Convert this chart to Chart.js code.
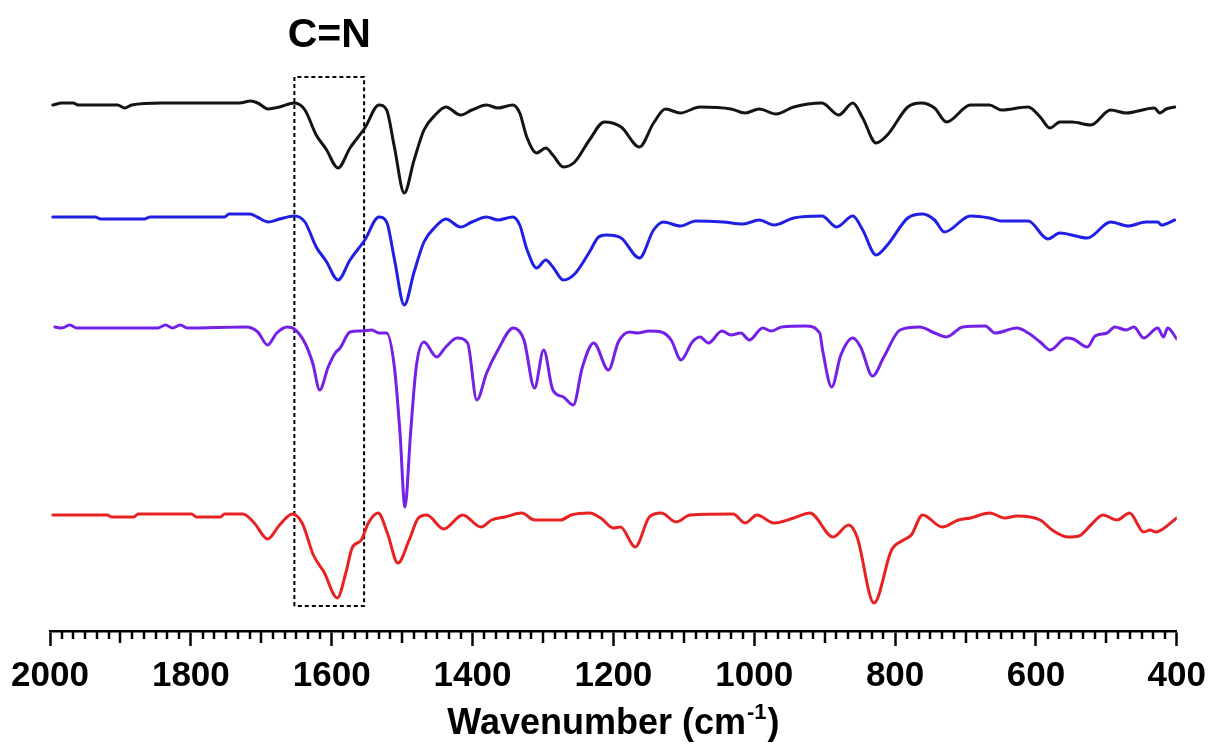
<!DOCTYPE html>
<html>
<head>
<meta charset="utf-8">
<script src="https://cdn.jsdelivr.net/npm/chart.js@4.4.1/dist/chart.umd.min.js"></script>
<style>
  html, body { margin: 0; padding: 0; background: #ffffff; }
  #wrap { width: 1215px; height: 746px; position: relative; }
</style>
</head>
<body>
<div id="wrap"><canvas id="ir" width="1215" height="746"></canvas></div>
<script>
// FTIR spectra: wavenumber (cm-1) and transmittance relative to each trace's own baseline (a.u.)
const wnBlack = [1996,1983,1967,1960,1904,1894,1884,1841,1731,1715,1705,1690,1674,1653,1638,1622,1608,1591,1574,1553,1533,1522,1511,1497,1483,1469,1453,1438,1417,1401,1380,1364,1343,1333,1323,1309,1296,1286,1271,1255,1234,1213,1189,1163,1143,1126,1105,1077,1033,1013,993,969,944,904,880,860,846,827,811,782,763,744,727,693,666,649,611,594,580,566,549,522,494,472,432,424,415,403];
const tBlack = [0,2,2,0,0,-3,0,2,2,4,2,-4,-2,2,-5,-30,-44,-63,-43,-23,0,-5,-42,-88,-55,-25,-10,-2,-10,-5,0,-3,0,-8,-32,-48,-43,-50,-62,-57,-35,-17,-22,-42,-18,-4,-8,-2,-4,-8,-4,-9,-2,2,-10,2,-13,-38,-30,-2,2,-3,-17,0,0,-5,-2,-12,-23,-17,-17,-20,-5,-8,-3,-8,-4,-2];

const wnBlue = [1996,1936,1928,1866,1858,1752,1746,1716,1706,1690,1674,1653,1638,1622,1608,1591,1574,1553,1533,1522,1511,1497,1483,1469,1453,1438,1417,1401,1380,1364,1343,1333,1323,1309,1296,1286,1271,1255,1234,1221,1210,1189,1163,1143,1129,1105,1083,1044,1016,993,972,944,904,883,860,846,827,811,782,761,744,730,693,666,649,611,583,566,527,494,469,444,427,422,403];
const tBlue = [0,0,-2,-2,0,0,3,3,0,-5,-2,1,-5,-30,-44,-63,-43,-23,0,-5,-42,-88,-55,-25,-10,-2,-10,-5,0,-3,0,-8,-32,-51,-43,-50,-63,-57,-35,-20,-18,-21,-41,-13,-5,-9,-4,-5,-7,-3,-8,-1,1,-10,1,-13,-38,-28,-1,3,-3,-15,1,-1,-4,-4,-22,-16,-21,-5,-9,-5,-5,-8,-3];

const wnPurple = [1993,1983,1972,1962,1847,1836,1826,1815,1805,1721,1705,1691,1678,1663,1653,1638,1627,1617,1605,1595,1588,1574,1558,1543,1533,1522,1511,1503,1496,1488,1480,1469,1451,1438,1422,1407,1394,1380,1364,1342,1327,1312,1299,1286,1271,1257,1244,1228,1207,1193,1177,1166,1149,1132,1118,1104,1088,1077,1065,1046,1033,1019,1007,988,976,961,927,907,903,890,877,860,849,832,816,793,765,744,727,704,672,658,627,611,594,580,557,547,527,516,499,488,472,461,447,427,419,413,400];
const tPurple = [0,-1,2,-1,-1,2,-1,2,-1,0,-5,-18,-6,0,-2,-16,-36,-63,-40,-26,-21,-5,-4,-3,-6,-6,-40,-106,-180,-106,-40,-15,-30,-20,-11,-16,-73,-46,-23,-1,-13,-61,-23,-63,-70,-78,-40,-16,-43,-15,-5,-6,-4,-5,-13,-33,-15,-10,-16,-4,-8,-6,-13,-1,-4,0,1,-6,-23,-60,-28,-11,-20,-49,-30,-3,0,-6,-10,0,1,-6,-1,-6,-15,-23,-11,-12,-20,-9,-6,0,-3,0,-11,-1,-10,-1,-12];

const wnRed = [1996,1919,1912,1881,1875,1799,1792,1758,1752,1726,1710,1691,1674,1656,1642,1626,1611,1592,1580,1571,1558,1548,1534,1521,1506,1490,1477,1465,1441,1414,1388,1373,1354,1330,1312,1275,1260,1234,1218,1200,1190,1169,1149,1132,1111,1091,1030,1013,996,972,944,921,888,866,854,830,805,788,777,761,733,710,693,666,644,627,594,577,554,539,522,505,485,467,447,438,430,400];
const tRed = [0,0,-2,-2,1,1,-2,-2,1,1,-8,-24,-10,1,-8,-40,-57,-83,-58,-33,-25,-8,2,-18,-48,-25,-3,0,-14,0,-12,-5,-2,2,-5,-5,0,2,-3,-13,-12,-32,-2,2,-7,0,1,-8,0,-8,-3,2,-22,-10,-22,-88,-35,-25,-20,0,-12,-5,-3,2,-3,-1,-5,-15,-22,-21,-10,0,-5,2,-17,-15,-17,-3];

// vertical stacking offsets of the four spectra (a.u.)
const offsets = [526, 414, 304, 116];
const traceColors = ['#141414', '#2020e4', '#7420e6', '#e62222'];

// x axis range and tick spacing (cm-1); 12 minor divisions per labelled step
const wnMin = 400, wnMax = 2000, majorStep = 200, minorPerMajor = 12;

// highlighted C=N band region
const bandWn = [1653, 1554];
const bandT = [25, 554];
const bandLabel = 'C=N';

function series(wn, t, off) {
  return wn.map((w, i) => ({ x: w, y: t[i] + off }));
}

const traces = [[wnBlack, tBlack], [wnBlue, tBlue], [wnPurple, tPurple], [wnRed, tRed]];

const datasets = traces.map((tr, k) => ({
  data: series(tr[0], tr[1], offsets[k]),
  borderColor: traceColors[k],
  borderWidth: 3,
  pointRadius: 0,
  cubicInterpolationMode: 'monotone',
  borderJoinStyle: 'round',
  borderCapStyle: 'round',
  fill: false
}));

// dashed rectangle around the band
datasets.push({
  data: [
    { x: bandWn[0], y: bandT[0] }, { x: bandWn[0], y: bandT[1] },
    { x: bandWn[1], y: bandT[1] }, { x: bandWn[1], y: bandT[0] },
    { x: bandWn[0], y: bandT[0] }
  ],
  borderColor: '#000',
  borderWidth: 2,
  borderDash: [4, 3],
  pointRadius: 0,
  tension: 0,
  fill: false
});

const FONT = '"Liberation Sans", Arial, Helvetica, sans-serif';

const extras = {
  id: 'extras',
  afterDraw(chart) {
    const ctx = chart.ctx;
    const xs = chart.scales.x, ys = chart.scales.y;
    ctx.save();
    // minor and intermediate ticks
    ctx.strokeStyle = '#000';
    ctx.lineWidth = 2.5;
    const nMinor = (wnMax - wnMin) / majorStep * minorPerMajor;
    for (let i = 0; i <= nMinor; i++) {
      if (i % minorPerMajor === 0) continue;
      const v = wnMin + i * majorStep / minorPerMajor;
      const len = (i % (minorPerMajor / 2) === 0) ? 12 : 8;
      const px = Math.round(xs.getPixelForValue(v));
      ctx.beginPath();
      ctx.moveTo(px, xs.top);
      ctx.lineTo(px, xs.top + len);
      ctx.stroke();
    }
    // band label
    ctx.fillStyle = '#000';
    ctx.font = 'bold 41px ' + FONT;
    ctx.textAlign = 'center';
    ctx.textBaseline = 'alphabetic';
    const bx = (xs.getPixelForValue(bandWn[0]) + xs.getPixelForValue(bandWn[1])) / 2;
    ctx.fillText(bandLabel, bx, ys.getPixelForValue(bandT[1]) - 30);
    // axis title with superscript
    const mainTxt = 'Wavenumber (cm', supTxt = '-1', endTxt = ')';
    ctx.textAlign = 'left';
    ctx.font = 'bold 36px ' + FONT;
    const w1 = ctx.measureText(mainTxt).width, w3 = ctx.measureText(endTxt).width;
    ctx.font = 'bold 22px ' + FONT;
    const w2 = ctx.measureText(supTxt).width;
    const cx = (xs.left + xs.right) / 2;
    const base = xs.bottom + 28;
    const x0 = cx - (w1 + w2 + w3 + 2) / 2;
    ctx.font = 'bold 36px ' + FONT;
    ctx.fillText(mainTxt, x0, base);
    ctx.font = 'bold 22px ' + FONT;
    ctx.fillText(supTxt, x0 + w1 + 1, base - 15);
    ctx.font = 'bold 36px ' + FONT;
    ctx.fillText(endTxt, x0 + w1 + w2 + 2, base);
    ctx.restore();
  }
};

new Chart(document.getElementById('ir'), {
  type: 'line',
  data: { datasets },
  options: {
    responsive: false,
    devicePixelRatio: 1,
    animation: false,
    layout: { padding: { left: 50, right: 35, top: 20, bottom: 40 } },
    plugins: { legend: { display: false }, tooltip: { enabled: false }, title: { display: false } },
    scales: {
      x: {
        type: 'linear',
        reverse: true,
        min: wnMin,
        max: wnMax,
        ticks: {
          stepSize: majorStep,
          color: '#000',
          padding: 9,
          font: { family: FONT, size: 35, weight: 'bold' },
          callback: (v) => String(v)
        },
        grid: {
          display: true,
          drawOnChartArea: false,
          drawTicks: true,
          tickLength: 15,
          tickWidth: 2.5,
          tickColor: '#000'
        },
        border: { display: true, color: '#000', width: 2.5 }
      },
      y: {
        display: false,
        min: 0,
        max: 611
      }
    }
  },
  plugins: [extras]
});
</script>
</body>
</html>
